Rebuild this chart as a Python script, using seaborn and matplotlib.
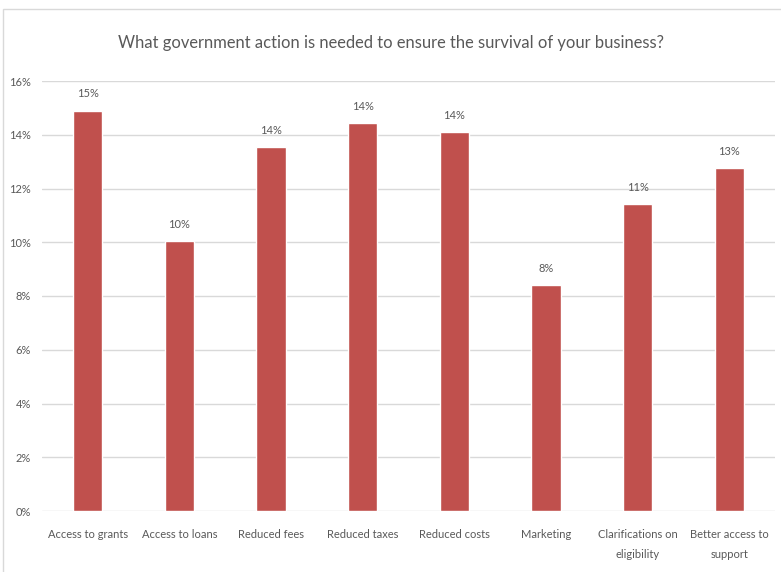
import matplotlib
matplotlib.use("Agg")
import matplotlib.pyplot as plt
import seaborn as sns
import pandas as pd
from matplotlib.patches import Rectangle
from matplotlib.ticker import FuncFormatter

categories = [
    "Access to grants", "Access to loans", "Reduced fees", "Reduced taxes",
    "Reduced costs", "Marketing", "Clarifications on\neligibility",
    "Better access to\nsupport",
]
shares = [14.9, 10.06, 13.53, 14.44, 14.11, 8.41, 11.41, 12.75]
yticks = [0, 2, 4, 6, 8, 10, 12, 14, 16]
title = "What government action is needed to ensure the survival of your business?"

sns.set_theme(style="white")
plt.rcParams["font.family"] = ["Lato", "DejaVu Sans"]

text_color = "#595959"
bar_color = "#c0504d"

df = pd.DataFrame({"action": categories, "share": shares})

fig = plt.figure(figsize=(7.81, 5.72), dpi=100)
ax = fig.add_axes([42 / 781, 1 - 511 / 572, (775 - 42) / 781, (511 - 81) / 572])


def fit_size(s, width_px, ref=10.0):
    """Font size at which string s spans width_px pixels."""
    r = fig.canvas.get_renderer()
    t = fig.text(0, 0, s, fontsize=ref)
    w = t.get_window_extent(renderer=r).width
    t.remove()
    return ref * width_px / w


title_fs = fit_size(title, 548)
tick_fs = fit_size("Access to grants", 80)
num_fs = fit_size("16%", 22)

sns.barplot(data=df, x="action", y="share", color=bar_color, width=0.32,
            saturation=1, ax=ax, zorder=3)

ax.set_ylim(0, 16)
ax.set_yticks(yticks)
ax.yaxis.set_major_formatter(FuncFormatter(lambda v, _: f"{v:.0f}%"))
ax.grid(axis="y", color="#d9d9d9", linewidth=1.0, zorder=0)
for s in ax.spines.values():
    s.set_visible(False)
ax.set_xlabel("")
ax.set_ylabel("")
ax.tick_params(axis="y", length=0, labelsize=num_fs, colors=text_color, pad=8)
ax.tick_params(axis="x", length=0, labelsize=tick_fs, colors=text_color, pad=13)
for lbl in ax.get_xticklabels():
    lbl.set_linespacing(1.95)

for i, v in enumerate(shares):
    ax.annotate(f"{v:.0f}%", (i, v), xytext=(0, 8), textcoords="offset points",
                ha="center", va="bottom", fontsize=num_fs, color=text_color)

fig.text(0.5, 1 - 43 / 572, title, ha="center", va="center",
         fontsize=title_fs, color=text_color)

fig.patches.append(Rectangle((3 / 781, -0.1), 1.2, 1 - 9 / 572 + 0.1,
                             transform=fig.transFigure, fill=False,
                             edgecolor="#d9d9d9", linewidth=1.0))

fig.savefig("out.png", dpi=100, facecolor="white")
